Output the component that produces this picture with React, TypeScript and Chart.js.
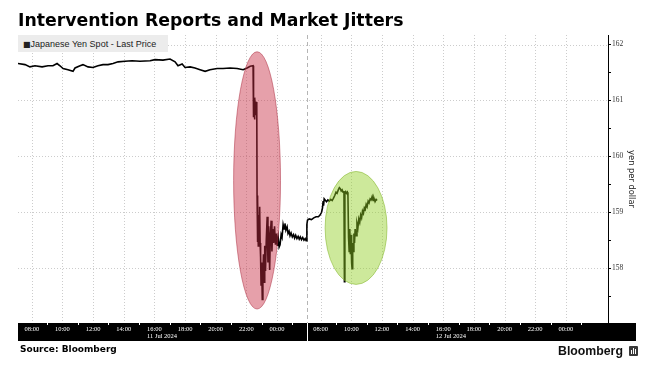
import React, { useEffect, useRef } from "react";
import { Chart, registerables } from "chart.js";

Chart.register(...registerables);

const TITLE = "Intervention Reports and Market Jitters";
const SERIES_NAME = "Japanese Yen Spot - Last Price";
const Y_TITLE = "yen per dollar";
const SOURCE = "Source: Bloomberg";
const BRAND = "Bloomberg";

// hours since 11 Jul 2024 00:00 (values above 24 fall on the early hours of 12 Jul)
const day1Hours = [
  7.10, 7.56, 7.88, 8.21, 8.67, 9.06, 9.38, 9.65, 9.84, 10.04, 10.36, 10.69, 10.82, 11.15,
  11.34, 11.67, 11.99, 12.32, 12.65, 12.97, 13.30, 13.63, 14.08, 14.54, 15.06, 15.72, 16.04,
  16.56, 17.02, 17.35, 17.54, 17.81, 18.00, 18.33, 18.65, 18.98, 19.31, 19.63, 20.09, 20.48,
  20.94, 21.40, 21.79, 22.05, 22.25, 22.44,
  22.47, 22.50, 22.53, 22.56, 22.59, 22.62, 22.65, 22.68, 22.70, 22.72, 22.75, 22.78, 22.81,
  22.84, 22.87, 22.90, 22.93, 22.96, 23.00, 23.04, 23.08, 23.12, 23.16, 23.20, 23.25, 23.30,
  23.36, 23.41, 23.46, 23.52, 23.57, 23.62, 23.67, 23.72, 23.78, 23.84, 23.90, 23.96, 24.02,
  24.08, 24.14, 24.20, 24.27, 24.33, 24.40, 24.46, 24.52, 24.58, 24.66, 24.72, 24.79, 24.85,
  24.92, 25.00, 25.08, 25.15, 25.22, 25.30, 25.38, 25.45, 25.52, 25.60, 25.68, 25.76, 25.84,
  25.90,
];
const day1Prices = [
  161.66, 161.64, 161.60, 161.62, 161.60, 161.62, 161.62, 161.66, 161.62, 161.57, 161.55,
  161.52, 161.58, 161.62, 161.64, 161.60, 161.59, 161.62, 161.64, 161.64, 161.66, 161.69,
  161.70, 161.71, 161.70, 161.71, 161.73, 161.72, 161.74, 161.69, 161.62, 161.65, 161.59,
  161.60, 161.58, 161.55, 161.52, 161.55, 161.57, 161.57, 161.58, 161.57, 161.55, 161.58,
  161.61, 161.62,
  160.70, 161.02, 160.66, 161.05, 160.75, 160.98, 160.80, 160.97, 159.30, 158.47, 159.20,
  158.40, 158.95, 158.50, 159.10, 158.45, 158.20, 157.70, 158.10, 157.44, 157.85, 158.25,
  157.75, 158.40, 157.95, 158.50, 158.92, 158.10, 158.75, 157.97, 158.60, 158.85, 158.30,
  158.70, 158.45, 158.75, 158.42, 158.62, 158.40, 158.55, 158.38, 158.42, 158.60, 158.55,
  158.78, 158.70, 158.80, 158.68, 158.74, 158.62, 158.66, 158.58, 158.63, 158.56, 158.60,
  158.54, 158.59, 158.53, 158.57, 158.52, 158.56, 158.51, 158.55, 158.50, 158.53, 158.49,
];

// hours since 12 Jul 2024 00:00
const day2Hours = [
  7.10, 7.14, 7.25, 7.40, 7.55, 7.70, 7.85, 7.96, 8.06, 8.12, 8.16, 8.19, 8.23, 8.29, 8.38,
  8.47, 8.56, 8.66, 8.75, 8.83, 8.92, 9.00, 9.07, 9.15, 9.22, 9.28, 9.34, 9.40, 9.46, 9.52,
  9.55, 9.58, 9.63, 9.68, 9.74, 9.78, 9.82, 9.86, 9.90, 9.94, 9.98, 10.02, 10.05, 10.09,
  10.13, 10.17, 10.21, 10.25, 10.31, 10.37, 10.43, 10.49, 10.55, 10.61, 10.67, 10.73, 10.79,
  10.85, 10.91, 10.97, 11.03, 11.10, 11.16, 11.23, 11.29, 11.36, 11.42, 11.48, 11.55, 11.62,
  11.68,
];
const day2Prices = [
  158.78, 158.86, 158.88, 158.87, 158.90, 158.92, 158.92, 158.95, 159.00, 159.08, 159.20,
  159.12, 159.24, 159.22, 159.19, 159.22, 159.20, 159.23, 159.21, 159.25, 159.30, 159.36,
  159.34, 159.40, 159.44, 159.42, 159.38, 159.40, 159.36, 159.38, 157.76, 159.35, 159.37,
  159.34, 159.36, 159.30, 158.55, 158.30, 158.70, 158.25, 158.60, 158.10, 157.99, 158.45,
  158.30, 158.62, 158.45, 158.70, 158.58, 158.80, 158.72, 158.88, 158.82, 158.95, 158.90,
  159.02, 158.98, 159.08, 159.05, 159.14, 159.10, 159.20, 159.17, 159.24, 159.22, 159.28,
  159.21, 159.25, 159.19, 159.23, 159.21,
];

// the axis skips the overnight hours: axis position = clock hour + shift
const DAY1_SHIFT = -7.1;
const DAY2_SHIFT = 11.75;
const X_MIN = 0;
const X_MAX = 38.5;
const Y_MIN = 157.02;
const Y_MAX = 162.17;

const labelHours = [8, 10, 12, 14, 16, 18, 20, 22, 24];
const labelTexts = ["08:00", "10:00", "12:00", "14:00", "16:00", "18:00", "20:00", "22:00", "00:00"];
const minorHours = [9, 11, 13, 15, 17, 19, 21, 23, 25];
const dateLabels = ["11 Jul 2024", "12 Jul 2024"];
const dateLabelHour = 16.5;
const sessionBreakDay2Hour = 7.08;

const yMajorTicks = [158, 159, 160, 161, 162];
const yMinorTicks = [157.5, 158.5, 159.5, 160.5, 161.5];

const redHighlight = { day: 1, hour: 22.7, price: 159.57, rxHours: 1.53, ryPrice: 2.3 };
const greenHighlight = { day: 2, hour: 10.31, price: 158.72, rxHours: 2.02, ryPrice: 1.01 };

const xTickValues = [
  ...labelHours.map((h) => h + DAY1_SHIFT),
  ...labelHours.map((h) => h + DAY2_SHIFT),
];
const xTickTexts = [...labelTexts, ...labelTexts];

const SMALL_FONT = "'Liberation Serif', serif";

function drawEllipse(chart: any, e: any, fill: string, stroke: string) {
  const { ctx, scales } = chart;
  const xs = scales.x;
  const ys = scales.y;
  const shift = e.day === 1 ? DAY1_SHIFT : DAY2_SHIFT;
  const cx = xs.getPixelForValue(e.hour + shift);
  const rx = Math.abs(xs.getPixelForValue(e.hour + shift + e.rxHours) - cx);
  const cy = ys.getPixelForValue(e.price);
  const ry = Math.abs(ys.getPixelForValue(e.price + e.ryPrice) - cy);
  ctx.save();
  ctx.beginPath();
  ctx.ellipse(cx, cy, rx, ry, 0, 0, Math.PI * 2);
  ctx.fillStyle = fill;
  ctx.fill();
  ctx.strokeStyle = stroke;
  ctx.lineWidth = 1;
  ctx.stroke();
  ctx.restore();
}

const decorPlugin = {
  id: "decor",
  beforeDraw(chart: any) {
    const { ctx, scales } = chart;
    const xs = scales.x;
    const ys = scales.y;
    ctx.save();
    ctx.fillStyle = "#ffffff";
    ctx.fillRect(0, 0, chart.width, chart.height);
    ctx.fillStyle = "#000000";
    ctx.fillRect(xs.left, xs.top, ys.right - xs.left, xs.bottom - xs.top);
    ctx.restore();
  },
  beforeDatasetsDraw(chart: any) {
    const { ctx, scales, chartArea } = chart;
    const xs = scales.x;
    const ys = scales.y;
    ctx.save();
    ctx.lineWidth = 1;
    ctx.strokeStyle = "#cccccc";
    ctx.setLineDash([1, 2]);
    for (const v of yMajorTicks) {
      const py = Math.round(ys.getPixelForValue(v)) + 0.5;
      ctx.beginPath();
      ctx.moveTo(chartArea.left, py);
      ctx.lineTo(chartArea.right, py);
      ctx.stroke();
    }
    for (const v of xTickValues) {
      const px = Math.round(xs.getPixelForValue(v)) + 0.5;
      ctx.beginPath();
      ctx.moveTo(px, chartArea.top);
      ctx.lineTo(px, chartArea.bottom);
      ctx.stroke();
    }
    ctx.strokeStyle = "#b5b5b5";
    ctx.setLineDash([4, 3]);
    const sx = Math.round(xs.getPixelForValue(sessionBreakDay2Hour + DAY2_SHIFT)) + 0.5;
    ctx.beginPath();
    ctx.moveTo(sx, chartArea.top);
    ctx.lineTo(sx, chartArea.bottom);
    ctx.stroke();
    ctx.restore();
  },
  afterDatasetsDraw(chart: any) {
    drawEllipse(chart, redHighlight, "rgba(199,44,66,0.45)", "rgba(170,40,60,0.5)");
    drawEllipse(chart, greenHighlight, "rgba(144,206,33,0.45)", "rgba(130,180,40,0.55)");
  },
  afterDraw(chart: any) {
    const { ctx, scales } = chart;
    const xs = scales.x;
    ctx.save();
    ctx.strokeStyle = "#ffffff";
    ctx.lineWidth = 1;
    const minorValues = [
      ...minorHours.map((h) => h + DAY1_SHIFT),
      ...minorHours.map((h) => h + DAY2_SHIFT),
    ];
    for (const v of minorValues) {
      if (v < X_MIN || v > X_MAX) continue;
      const px = Math.round(xs.getPixelForValue(v)) + 0.5;
      ctx.beginPath();
      ctx.moveTo(px, xs.top);
      ctx.lineTo(px, xs.top + 2);
      ctx.stroke();
    }
    const sx = Math.round(xs.getPixelForValue(sessionBreakDay2Hour + DAY2_SHIFT)) + 0.5;
    ctx.beginPath();
    ctx.moveTo(sx, xs.top);
    ctx.lineTo(sx, xs.bottom);
    ctx.stroke();
    ctx.fillStyle = "#ffffff";
    ctx.font = `6.5px ${SMALL_FONT}`;
    ctx.textAlign = "center";
    ctx.textBaseline = "top";
    ctx.fillText(dateLabels[0], xs.getPixelForValue(dateLabelHour + DAY1_SHIFT), xs.top + 10);
    ctx.fillText(dateLabels[1], xs.getPixelForValue(dateLabelHour + DAY2_SHIFT), xs.top + 10);
    ctx.restore();
  },
};

export default function App() {
  const canvasRef = useRef<HTMLCanvasElement | null>(null);

  useEffect(() => {
    const canvas = canvasRef.current;
    if (!canvas) return;
    const points = [
      ...day1Hours.map((h, i) => ({ x: h + DAY1_SHIFT, y: day1Prices[i] })),
      ...day2Hours.map((h, i) => ({ x: h + DAY2_SHIFT, y: day2Prices[i] })),
    ];
    const chart = new Chart(canvas, {
      type: "line",
      data: {
        datasets: [
          {
            label: SERIES_NAME,
            data: points,
            borderColor: "#000000",
            borderWidth: 1.6,
            pointRadius: 0,
            tension: 0,
            fill: false,
          },
        ],
      },
      options: {
        animation: false,
        responsive: false,
        devicePixelRatio: 1,
        layout: { padding: { left: 18, top: 35, right: 13, bottom: 24 } },
        plugins: { legend: { display: false }, tooltip: { enabled: false } },
        scales: {
          x: {
            type: "linear",
            position: "bottom",
            min: X_MIN,
            max: X_MAX,
            afterBuildTicks: (s: any) => {
              s.ticks = xTickValues.map((v) => ({ value: v }));
            },
            afterFit: (s: any) => {
              s.height = 18;
            },
            ticks: {
              autoSkip: false,
              maxRotation: 0,
              minRotation: 0,
              color: "#ffffff",
              font: { family: SMALL_FONT, size: 6.5 },
              padding: 2,
              callback: (_v: any, i: number) => xTickTexts[i],
            },
            grid: { display: false, drawTicks: false },
            border: { display: false },
          },
          y: {
            type: "linear",
            position: "right",
            min: Y_MIN,
            max: Y_MAX,
            afterBuildTicks: (s: any) => {
              s.ticks = [...yMajorTicks, ...yMinorTicks]
                .sort((a, b) => a - b)
                .map((v) => ({ value: v }));
            },
            afterFit: (s: any) => {
              s.width = 28;
            },
            ticks: {
              color: "#333333",
              font: { family: SMALL_FONT, size: 7.5 },
              padding: 1,
              callback: (v: any) => (Number.isInteger(v) ? String(v) : ""),
            },
            grid: {
              display: true,
              drawOnChartArea: false,
              drawTicks: true,
              tickLength: 3,
              color: "#000000",
            },
            border: { display: true, color: "#000000", width: 1 },
            title: {
              display: true,
              text: Y_TITLE,
              color: "#222222",
              font: { family: "'DejaVu Sans', sans-serif", size: 8.3 },
              padding: 0,
            },
          },
        },
      },
      plugins: [decorPlugin],
    } as any);
    return () => chart.destroy();
  }, []);

  return (
    <div
      style={{
        position: "absolute",
        left: 0,
        top: 0,
        width: 649,
        height: 365,
        background: "#ffffff",
        overflow: "hidden",
      }}
    >
      <canvas
        ref={canvasRef}
        width={649}
        height={365}
        style={{ position: "absolute", left: 0, top: 0, width: 649, height: 365 }}
      />
      <div
        style={{
          position: "absolute",
          left: 18,
          top: 12.4,
          fontFamily: "'DejaVu Sans', sans-serif",
          fontWeight: 700,
          fontSize: 17.3,
          lineHeight: 1,
          color: "#000",
          whiteSpace: "nowrap",
        }}
      >
        {TITLE}
      </div>
      <div
        style={{
          position: "absolute",
          left: 18,
          top: 35,
          width: 150,
          height: 17,
          background: "#ececec",
        }}
      >
        <div
          style={{
            position: "absolute",
            left: 5,
            top: 5,
            fontFamily: "'Liberation Sans', sans-serif",
            fontSize: 9,
            lineHeight: 1,
            color: "#222",
            whiteSpace: "nowrap",
          }}
        >
          <span style={{ fontFamily: "'DejaVu Sans', sans-serif", fontSize: 8 }}>■</span>
          {SERIES_NAME}
        </div>
      </div>
      <div
        style={{
          position: "absolute",
          left: 20,
          top: 344.5,
          fontFamily: "'DejaVu Sans', sans-serif",
          fontWeight: 700,
          fontSize: 9,
          lineHeight: 1,
          color: "#000",
          whiteSpace: "nowrap",
        }}
      >
        {SOURCE}
      </div>
      <div
        style={{
          position: "absolute",
          left: 558,
          top: 345.4,
          fontFamily: "'Liberation Sans', sans-serif",
          fontWeight: 700,
          fontSize: 12.3,
          lineHeight: 1,
          color: "#111",
          whiteSpace: "nowrap",
        }}
      >
        {BRAND}
      </div>
      <div
        style={{
          position: "absolute",
          left: 629,
          top: 346,
          width: 9,
          height: 10,
          background: "#3a3a3a",
          borderRadius: 1,
        }}
      >
        <div style={{ position: "absolute", left: 2, top: 4, width: 1, height: 4, background: "#fff" }} />
        <div style={{ position: "absolute", left: 4, top: 2, width: 1, height: 6, background: "#fff" }} />
        <div style={{ position: "absolute", left: 6, top: 3, width: 1, height: 5, background: "#fff" }} />
      </div>
    </div>
  );
}
